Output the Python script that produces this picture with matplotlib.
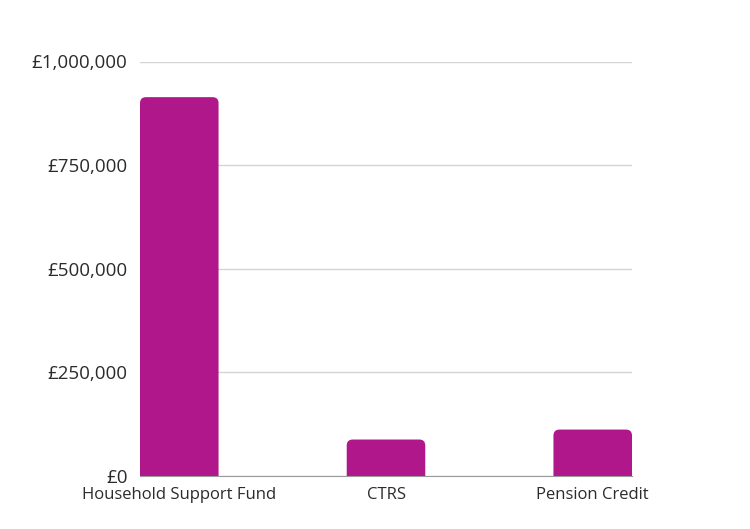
import matplotlib
matplotlib.use("Agg")
import matplotlib.pyplot as plt
from matplotlib.patches import PathPatch
from matplotlib.path import Path
from matplotlib.ticker import FuncFormatter

categories = ["Household Support Fund", "CTRS", "Pension Credit"]
values = [914000, 88000, 112000]
yticks = [0, 250000, 500000, 750000, 1000000]

bar_color = "#B0178A"
barWidth = 0.38

plt.rcParams['font.family'] = ['Open Sans', 'DejaVu Sans']

fig = plt.figure(figsize=(7.5, 5.29), dpi=100)
ax = fig.add_axes([140/750, 53/529, 492/750, 414.5/529])

x = list(range(len(categories)))
bars = ax.bar(x, values, width=barWidth, color=bar_color)

ax.set_xlim(-barWidth/2, len(categories) - 1 + barWidth/2)
ax.set_ylim(0, 1000000)

# swap plain bars for ones with rounded top corners
px_x = (len(categories) - 1 + barWidth) / 492.0
px_y = 1000000 / 414.5
rx = 6 * px_x
ry = 6 * px_y
for bar in bars:
    bx, by = bar.get_x(), bar.get_y()
    bw, bh = bar.get_width(), bar.get_height()
    top = by + bh
    bar.set_visible(False)
    verts = [(bx, by), (bx + bw, by), (bx + bw, top - ry),
             (bx + bw, top), (bx + bw - rx, top),
             (bx + rx, top),
             (bx, top), (bx, top - ry),
             (bx, by)]
    codes = [Path.MOVETO, Path.LINETO, Path.LINETO,
             Path.CURVE3, Path.CURVE3,
             Path.LINETO,
             Path.CURVE3, Path.CURVE3,
             Path.CLOSEPOLY]
    ax.add_patch(PathPatch(Path(verts, codes), facecolor=bar_color,
                           edgecolor="none", zorder=3))

ax.set_xticks(x)
ax.set_xticklabels(categories)
ax.set_yticks(yticks)
ax.yaxis.set_major_formatter(FuncFormatter(lambda v, p: "£{:,.0f}".format(v)))

ax.grid(axis='y', color='#d4d4d4', linewidth=1)
ax.set_axisbelow(True)
for s in ['top', 'right', 'left']:
    ax.spines[s].set_visible(False)
ax.spines['bottom'].set_color('#9a9a9a')
ax.spines['bottom'].set_zorder(4)

ax.tick_params(axis='both', length=0, colors='#2b2b2b')
ax.tick_params(axis='x', labelsize=12, pad=8)
ax.tick_params(axis='y', labelsize=13.5, pad=9)

fig.savefig("out.png", dpi=100, facecolor="white")
